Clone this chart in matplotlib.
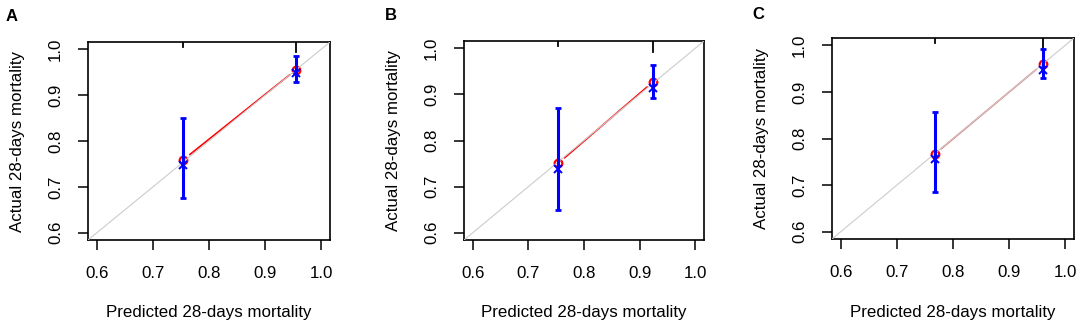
import matplotlib
matplotlib.use('Agg')
import matplotlib.pyplot as plt
from matplotlib.patches import FancyArrowPatch

plt.rcParams['font.family'] = ['Liberation Sans', 'DejaVu Sans']

# Calibration data
panel_labels = ['A', 'B', 'C']
predicted = [[0.754, 0.956], [0.7535, 0.925], [0.767, 0.960]]
apparent = [[0.759, 0.956], [0.7505, 0.928], [0.766, 0.960]]
corrected = [[0.747, 0.948], [0.739, 0.913], [0.756, 0.947]]
ci_low = [[0.675, 0.928], [0.649, 0.892], [0.685, 0.929]]
ci_high = [[0.850, 0.986], [0.870, 0.963], [0.856, 0.992]]
# relative heights of the risk-distribution spikes at the top
spike = [[0.027, 0.05], [0.027, 0.055], [0.027, 0.055]]
line_col = ['red', 'red', '#e07070']

ticks = [0.6, 0.7, 0.8, 0.9, 1.0]
tick_labels = ['0.6', '0.7', '0.8', '0.9', '1.0']

W, H = 1084, 330
# box positions in pixels: left, right, top, bottom
boxes = [(88, 330, 42, 240), (464, 704, 41, 240), (832, 1074, 38, 239)]
letter_pos = [(6, 21), (385, 20), (752, 19)]

fig = plt.figure(figsize=(W / 100, H / 100), dpi=100)

for i in range(3):
    l, r, t, b = boxes[i]
    ax = fig.add_axes([l / W, 1 - b / H, (r - l) / W, (b - t) / H])
    ax.set_xlim(0.584, 1.016)
    ax.set_ylim(0.584, 1.016)

    # apparent (type "b" line with gaps at the points)
    seg = FancyArrowPatch((predicted[i][0], apparent[i][0]),
                          (predicted[i][1], apparent[i][1]),
                          arrowstyle='-', color=line_col[i], lw=1.2,
                          shrinkA=6, shrinkB=6, zorder=2)
    ax.add_patch(seg)
    ax.plot(predicted[i], apparent[i], linestyle='none', marker='o',
            markersize=5.5, markerfacecolor='white', markeredgecolor='red',
            markeredgewidth=1.6, zorder=3)

    # ideal line
    ax.axline((0, 0), (1, 1), color='#cccccc', lw=0.8, zorder=4)

    # error bars and bias-corrected points
    ax.vlines(predicted[i], ci_low[i], ci_high[i], color='blue', lw=2.2, zorder=5)
    for j in range(2):
        ax.plot([predicted[i][j]] * 2, [ci_low[i][j], ci_high[i][j]],
                linestyle='none', marker='_', markersize=4.5, markeredgewidth=2,
                color='blue', zorder=5)
    ax.plot(predicted[i], corrected[i], linestyle='none', marker='x',
            markersize=6, markeredgewidth=1.4, color='blue', zorder=6)

    # spike histogram of predictions at top
    for j in range(2):
        ax.plot([predicted[i][j]] * 2, [1, 1 - spike[i][j]], color='black',
                lw=1.3, transform=ax.get_xaxis_transform(), zorder=4)

    ax.set_xticks(ticks)
    ax.set_xticklabels(tick_labels)
    ax.set_yticks(ticks)
    ax.set_yticklabels(tick_labels, rotation=90, va='center')
    ax.tick_params(direction='out', length=7, width=1.1, labelsize=12.2,
                   color='black')
    ax.tick_params(axis='x', pad=12)
    ax.tick_params(axis='y', pad=11)
    for s in ax.spines.values():
        s.set_linewidth(1.2)

    ax.set_xlabel('Predicted 28-days mortality', fontsize=12.2)
    ax.set_ylabel('Actual 28-days mortality', fontsize=12.2)
    ax.xaxis.label.set_va('center')
    ax.yaxis.label.set_va('center')
    ax.xaxis.set_label_coords(0.5, (b - 313) / (b - t))
    ax.yaxis.set_label_coords(-0.293, 0.5)

    fig.text(letter_pos[i][0] / W, 1 - letter_pos[i][1] / H, panel_labels[i],
             fontsize=12, fontweight='bold', va='baseline', ha='left')

fig.savefig('out.png', dpi=100)
